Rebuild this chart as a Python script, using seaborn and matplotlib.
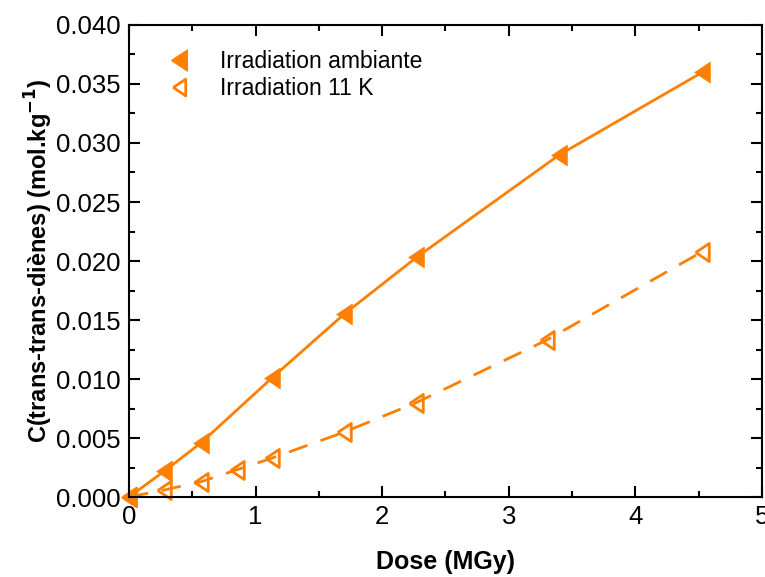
import pandas as pd
import matplotlib.pyplot as plt
import seaborn as sns
from matplotlib.lines import Line2D
from matplotlib.ticker import MultipleLocator

# données
dose_ambiante = [0.0, 0.28, 0.57, 1.13, 1.70, 2.27, 3.40, 4.53]
conc_ambiante = [0.0, 0.0022, 0.0046, 0.0101, 0.0155, 0.0203, 0.0290, 0.0360]

dose_11k = [0.0, 0.28, 0.57, 0.85, 1.13, 1.70, 2.27, 3.30, 4.53]
conc_11k = [0.0, 0.0006, 0.0013, 0.0023, 0.0033, 0.0055, 0.0080, 0.0133, 0.0208]

couleur = '#FF7F00'
# triangle pointe à gauche, un peu plus haut que large
triangle = [(-0.75, 0), (0.75, 1), (0.75, -1), (-0.75, 0)]

sns.set_style('ticks')
plt.rcParams['font.family'] = ['Liberation Sans', 'DejaVu Sans']
for k in ['text.color', 'axes.labelcolor', 'xtick.color', 'ytick.color', 'axes.edgecolor']:
    plt.rcParams[k] = 'black'

fig = plt.figure(figsize=(7.65, 5.77), dpi=100)
ax = fig.add_axes([0.1686, 0.1386, 0.8274, 0.8181])

df_amb = pd.DataFrame({'dose': dose_ambiante, 'c': conc_ambiante})
df_11k = pd.DataFrame({'dose': dose_11k, 'c': conc_11k})

sns.lineplot(data=df_amb, x='dose', y='c', ax=ax, color=couleur, linewidth=2,
             marker=triangle, markersize=15, markeredgewidth=0.5, markeredgecolor=couleur,
             markerfacecolor=couleur, clip_on=False)
sns.lineplot(data=df_11k, x='dose', y='c', ax=ax, color=couleur, linewidth=2,
             linestyle=(0, (7, 5)), marker=triangle, markersize=13, markeredgewidth=2,
             markeredgecolor=couleur, markerfacecolor='none', clip_on=False)

ax.set_xlim(0, 5)
ax.set_ylim(0, 0.040)
ax.xaxis.set_major_locator(MultipleLocator(1))
ax.xaxis.set_minor_locator(MultipleLocator(0.5))
ax.yaxis.set_major_locator(MultipleLocator(0.005))
ax.yaxis.set_minor_locator(MultipleLocator(0.0025))
ax.yaxis.set_major_formatter(plt.FormatStrFormatter('%.3f'))

ax.tick_params(which='both', direction='in', top=True, right=True, width=1.5,
               labelsize=18.5, pad=6)
ax.tick_params(which='major', length=8)
ax.tick_params(which='minor', length=4)
for s in ax.spines.values():
    s.set_linewidth(1.5)

ax.set_xlabel('Dose (MGy)', fontsize=18, fontweight='bold', labelpad=15)
ax.set_ylabel('C(trans-trans-diènes) (mol.kg$^{\\mathbf{-1}}$)', fontsize=17,
              fontweight='bold', labelpad=1)

poignees = [
    Line2D([], [], linestyle='none', marker=triangle, markersize=15, color=couleur),
    Line2D([], [], linestyle='none', marker=triangle, markersize=12, markeredgewidth=2,
           markeredgecolor=couleur, markerfacecolor='none'),
]
ax.legend(poignees, ['Irradiation ambiante', 'Irradiation 11 K'], loc='upper left',
          bbox_to_anchor=(0.02, 0.99), frameon=False, fontsize=16.5,
          handletextpad=1.0, labelspacing=0.15, handlelength=1.5)

fig.savefig('out.png', dpi=100)
